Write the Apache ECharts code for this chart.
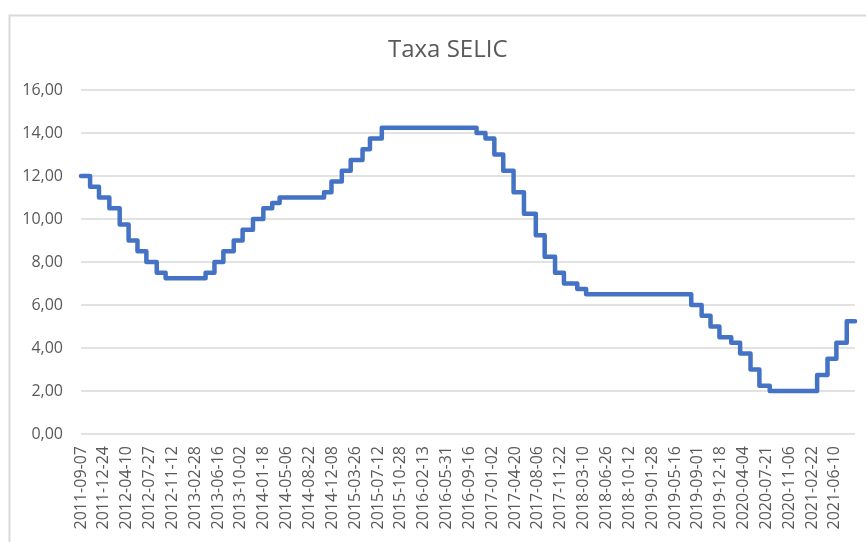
<!DOCTYPE html>
<html>
<head>
<meta charset="utf-8">
<script src="https://cdn.jsdelivr.net/npm/echarts@6/dist/echarts.min.js"></script>
<style>
html,body{margin:0;padding:0;background:#fff;}
#chart{width:866px;height:542px;}
</style>
</head>
<body>
<div id="chart"></div>
<script>
// Data: dates when the SELIC rate changed and the rate (% a.a.) from that date on
const changeDates = ['2011-09-07','2011-10-20','2011-12-01','2012-01-19','2012-03-08','2012-04-19','2012-05-31','2012-07-12','2012-08-30','2012-10-11',
  '2013-04-18','2013-05-30','2013-07-11','2013-08-29','2013-10-10','2013-11-28','2014-01-16','2014-02-27','2014-04-03','2014-10-30',
  '2014-12-04','2015-01-22','2015-03-05','2015-04-30','2015-06-04','2015-07-30','2016-10-20','2016-12-01','2017-01-12','2017-02-23',
  '2017-04-13','2017-06-01','2017-07-27','2017-09-07','2017-10-26','2017-12-07','2018-02-08','2018-03-22','2019-08-01','2019-09-19',
  '2019-10-31','2019-12-12','2020-02-06','2020-03-19','2020-05-07','2020-06-18','2020-08-06','2021-03-18','2021-05-06','2021-06-17',
  '2021-08-05','2021-09-13'];
const rates = [12.00,11.50,11.00,10.50,9.75,9.00,8.50,8.00,7.50,7.25,
  7.50,8.00,8.50,9.00,9.50,10.00,10.50,10.75,11.00,11.25,
  11.75,12.25,12.75,13.25,13.75,14.25,14.00,13.75,13.00,12.25,
  11.25,10.25,9.25,8.25,7.50,7.00,6.75,6.50,6.00,5.50,
  5.00,4.50,4.25,3.75,3.00,2.25,2.00,2.75,3.50,4.25,
  5.25,5.25];
const axisStart = '2011-09-07';
const axisEnd = '2021-09-13';
const tickStepDays = 108;
const yTicks = [0,2,4,6,8,10,12,14,16];

const DAY = 86400000;
const ts = s => { const p = s.split('-'); return Date.UTC(+p[0], +p[1]-1, +p[2]); };
const fmt = v => { const d = new Date(v); const m = d.getUTCMonth()+1, dd = d.getUTCDate();
  return d.getUTCFullYear() + '-' + (m<10?'0':'') + m + '-' + (dd<10?'0':'') + dd; };

const seriesData = changeDates.map((d,i) => [ts(d), rates[i]]);

const chart = echarts.init(document.getElementById('chart'), null, {renderer:'canvas'});
chart.setOption({
  animation: false,
  backgroundColor: '#ffffff',
  title: {
    text: 'Taxa SELIC',
    left: 383,
    top: 33,
    textStyle: {fontFamily: 'Open Sans', fontSize: 24, fontWeight: 'normal', color: '#595959'}
  },
  graphic: [{
    type: 'rect', left: 7, top: 13, silent: true,
    shape: {width: 900, height: 600},
    style: {fill: 'none', stroke: '#d9d9d9', lineWidth: 2}
  }],
  grid: {left: 81, right: 11, top: 90, bottom: 108, containLabel: false},
  xAxis: {
    type: 'value',
    min: ts(axisStart),
    max: ts(axisEnd),
    interval: tickStepDays * DAY,
    axisLine: {show: false},
    axisTick: {show: false},
    splitLine: {show: false},
    axisLabel: {
      rotate: 90,
      margin: 12,
      showMaxLabel: false,
      fontFamily: 'Open Sans',
      fontSize: 16,
      color: '#595959',
      formatter: v => fmt(v)
    }
  },
  yAxis: {
    type: 'value',
    min: yTicks[0],
    max: yTicks[yTicks.length-1],
    interval: yTicks[1]-yTicks[0],
    axisLine: {show: false},
    axisTick: {show: false},
    splitLine: {lineStyle: {color: '#d9d9d9', width: 1.5}},
    axisLabel: {
      margin: 18,
      fontFamily: 'Open Sans',
      fontSize: 16,
      color: '#595959',
      formatter: v => v.toFixed(2).replace('.', ',')
    }
  },
  series: [{
    type: 'line',
    step: 'end',
    data: seriesData,
    showSymbol: false,
    symbol: 'none',
    lineStyle: {color: '#4472C4', width: 4.5, cap: 'round', join: 'round'}
  }]
});
</script>
</body>
</html>
